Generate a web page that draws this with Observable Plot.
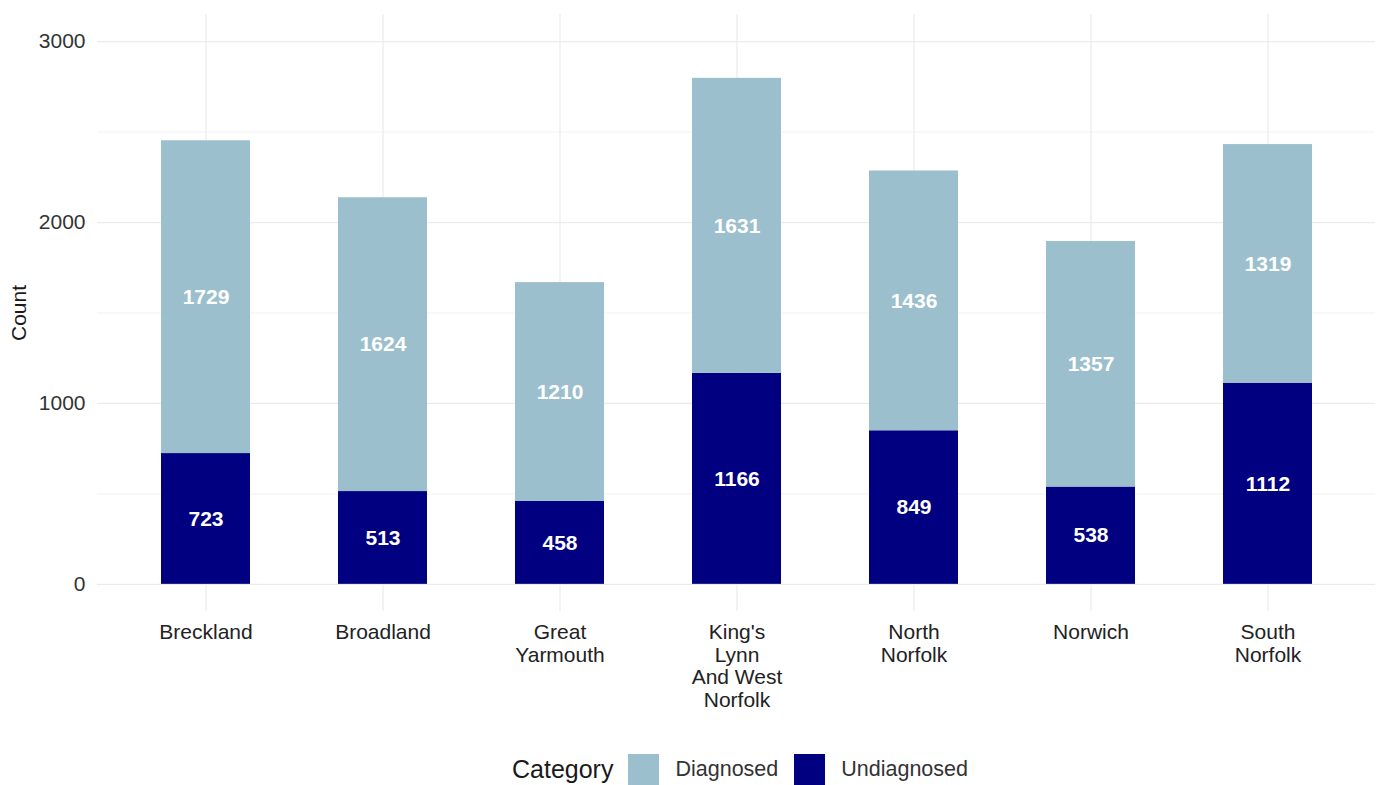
<!DOCTYPE html>
<html>
<head>
<meta charset="utf-8">
<script src="https://cdn.jsdelivr.net/npm/d3@7"></script>
<script src="https://cdn.jsdelivr.net/npm/@observablehq/plot@0.6"></script>
<style>
  body { margin: 0; background: #fff; font-family: "Liberation Sans", Arial, sans-serif; }
  #legend { display: flex; align-items: center; justify-content: flex-start; padding-left: 512px; padding-top: 29px; height: 31px; }
  #legend .title { font-size: 25px; color: #1a1a1a; margin-right: 15px; }
  #legend .sw { width: 31px; height: 31px; display: inline-block; margin-right: 16px; }
  #legend .lab { font-size: 21.5px; color: #333; margin-right: 16px; }
</style>
</head>
<body>
<div id="chart"></div>
<div id="legend"></div>
<script>
const districts = ["Breckland", "Broadland", "Great Yarmouth", "King's Lynn And West Norfolk", "North Norfolk", "Norwich", "South Norfolk"];
const districtLabels = ["Breckland", "Broadland", "Great\nYarmouth", "King's\nLynn\nAnd West\nNorfolk", "North\nNorfolk", "Norwich", "South\nNorfolk"];
const diagnosed = [1729, 1624, 1210, 1631, 1436, 1357, 1319];
const undiagnosed = [723, 513, 458, 1166, 849, 538, 1112];
const categories = ["Diagnosed", "Undiagnosed"];
const colors = ["#9bbfcc", "#000080"];
const yTicks = [0, 1000, 2000, 3000];
const yMinor = [500, 1500, 2500];

const rows = [];
districts.forEach((d, i) => {
  rows.push({district: d, category: "Undiagnosed", count: undiagnosed[i]});
  rows.push({district: d, category: "Diagnosed", count: diagnosed[i]});
});
const labelOf = new Map(districts.map((d, i) => [d, districtLabels[i]]));
const stackOpts = {x: "district", y: "count", z: "category", order: ["Undiagnosed", "Diagnosed"]};

const chart = Plot.plot({
  width: 1380,
  height: 725,
  marginTop: 14,
  marginBottom: 114,
  marginLeft: 97,
  marginRight: 5,
  style: {fontFamily: "'Liberation Sans', Arial, sans-serif", background: "#fff"},
  x: {domain: districts, padding: 0.5, paddingOuter: 0.354, label: null},
  y: {domain: [-150, 3150], label: "Count"},
  color: {domain: categories, range: colors},
  marks: [
    Plot.ruleY(yMinor, {stroke: "#ebebeb", strokeWidth: 0.7}),
    Plot.ruleY(yTicks, {stroke: "#ebebeb", strokeWidth: 1.2}),
    Plot.gridX({stroke: "#ebebeb", strokeOpacity: 1, strokeWidth: 1.2}),
    Plot.barY(rows, Plot.stackY({...stackOpts, fill: "category"})),
    Plot.text(rows, Plot.stackY({...stackOpts, text: d => String(d.count), fill: "white", fontWeight: "bold", fontSize: 21})),
    Plot.axisY({ticks: yTicks, tickFormat: d => String(d), tickSize: 0, tickPadding: 12, fontSize: 21, fill: "#333", label: "Count", labelAnchor: "center", labelArrow: "none", labelOffset: 86}),
    Plot.axisX({tickSize: 0, tickPadding: 12, fontSize: 21, fill: "#222", lineHeight: 1.07, tickFormat: d => labelOf.get(d), label: null})
  ]
});
document.getElementById("chart").appendChild(chart);
d3.select(chart).selectAll("[aria-label='y-axis label'] text").style("font-size", "21px").style("fill", "#1a1a1a");

const legend = document.getElementById("legend");
legend.innerHTML = `<span class="title">Category</span>` + categories.map((c, i) =>
  `<span class="sw" style="background:${colors[i]}"></span><span class="lab">${c}</span>`).join("");
</script>
</body>
</html>
